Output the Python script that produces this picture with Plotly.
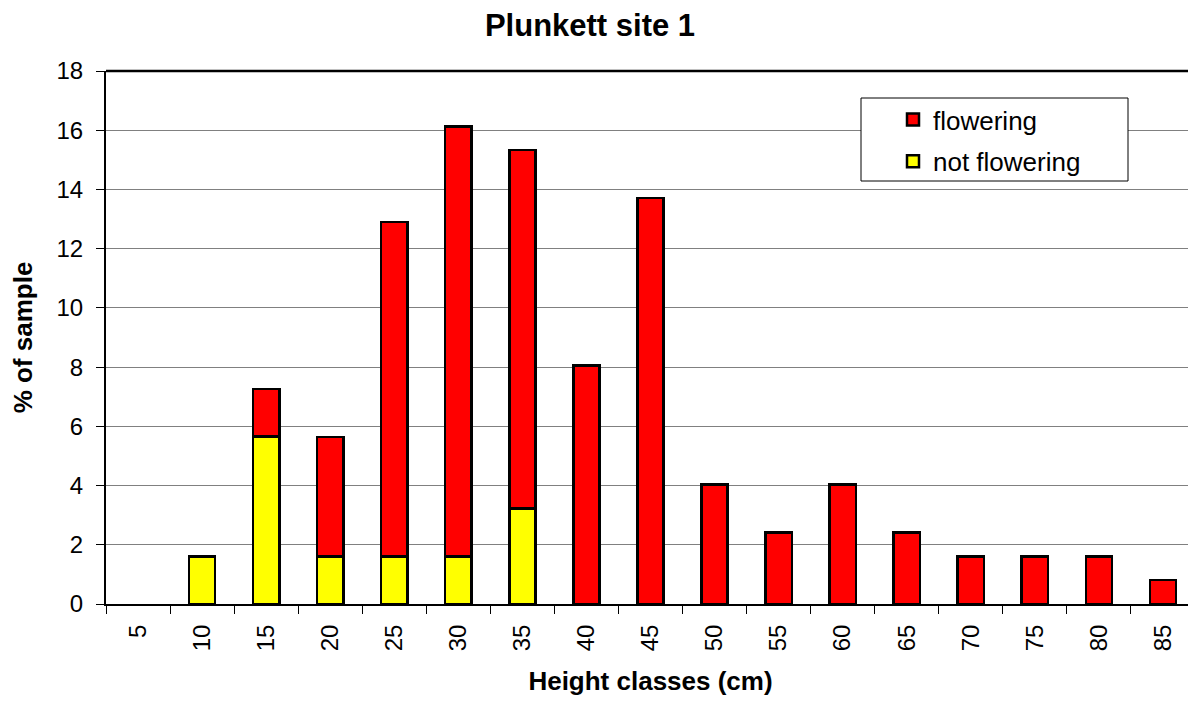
import plotly.graph_objects as go

heights = ["5", "10", "15", "20", "25", "30", "35", "40", "45", "50",
           "55", "60", "65", "70", "75", "80", "85"]
not_flowering = [0, 1.61, 5.65, 1.61, 1.61, 1.61, 3.23, 0, 0, 0,
                 0, 0, 0, 0, 0, 0, 0]
flowering = [0, 0, 1.61, 4.03, 11.29, 14.52, 12.10, 8.06, 13.71, 4.03,
             2.42, 4.03, 2.42, 1.61, 1.61, 1.61, 0.81]

FONT = "Liberation Sans, Arial, sans-serif"


def nz(vals):
    # zero-height segments are not drawn in the original chart
    return [v if v else None for v in vals]


fig = go.Figure()
fig.add_trace(go.Bar(
    x=heights, y=nz(not_flowering), name="not flowering",
    legendgroup="nf", legendrank=2,
    marker=dict(color="#FFFF00", line=dict(color="black", width=2.5)),
))
fig.add_trace(go.Bar(
    x=heights, y=nz(flowering), name="flowering",
    legendgroup="f", legendrank=1,
    marker=dict(color="#FF0000", line=dict(color="black", width=2.5)),
))

# the page body adds an 8px offset; figure is sized to fill the window
OFF = 8
FW, FH = 1196 - OFF, 704 - OFF
# plot area in page pixels: x 106..1195, y 71..604
L, R, T, B = 106 - OFF, 1195 - OFF, 71 - OFF, 604 - OFF
W, H = R - L, B - T


def px(x):
    return (x - OFF - L) / W


def py(y):
    return (B - (y - OFF)) / H


fig.update_layout(
    barmode="stack",
    bargap=0.59,
    width=FW, height=FH,
    margin=dict(l=L, r=FW - R, t=T, b=FH - B, autoexpand=False),
    plot_bgcolor="white", paper_bgcolor="white",
    font=dict(family=FONT, size=24, color="black"),
    title=dict(text="<b>Plunkett site 1</b>", x=(590 - OFF) / FW,
               xanchor="center", y=1 - (25 - OFF) / FH, yanchor="middle",
               font=dict(family=FONT, size=31, color="black")),
    legend=dict(
        x=px(893), y=py(96), xanchor="left", yanchor="top",
        traceorder="grouped", tracegroupgap=5,
        bgcolor="rgba(0,0,0,0)", borderwidth=0,
        font=dict(family=FONT, size=26, color="black"),
        itemwidth=30,
    ),
    xaxis=dict(
        type="category",
        tickangle=-90,
        ticks="outside", tickson="boundaries", ticklen=8,
        tickcolor="black", tickwidth=1,
        showline=True, linecolor="black", linewidth=2,
        ticklabelstandoff=9,
        tickfont=dict(family=FONT, size=24),
        title=dict(text="<b>Height classes (cm)</b>",
                   font=dict(family=FONT, size=26), standoff=21),
        showgrid=False,
        automargin=False,
    ),
    yaxis=dict(
        range=[0, 18], dtick=2,
        ticks="outside", ticklen=8, tickcolor="black", tickwidth=1,
        showline=True, linecolor="black", linewidth=2,
        showgrid=True, gridcolor="#808080", gridwidth=1,
        ticklabelstandoff=8,
        tickfont=dict(family=FONT, size=24),
        title=dict(text="<b>% of sample</b>",
                   font=dict(family=FONT, size=26), standoff=18),
        zeroline=False,
        automargin=False,
    ),
    shapes=[
        dict(type="line", xref="paper", yref="paper", x0=0, x1=1, y0=1, y1=1,
             line=dict(color="black", width=2.5)),
        dict(type="line", xref="paper", yref="paper", x0=1, x1=1, y0=0, y1=1,
             line=dict(color="#808080", width=1.5)),
        dict(type="rect", xref="paper", yref="paper", layer="above",
             x0=px(861), x1=px(1128), y0=py(181), y1=py(98),
             fillcolor="white", line=dict(color="black", width=1)),
    ],
)

fig.write_html("out.html")
